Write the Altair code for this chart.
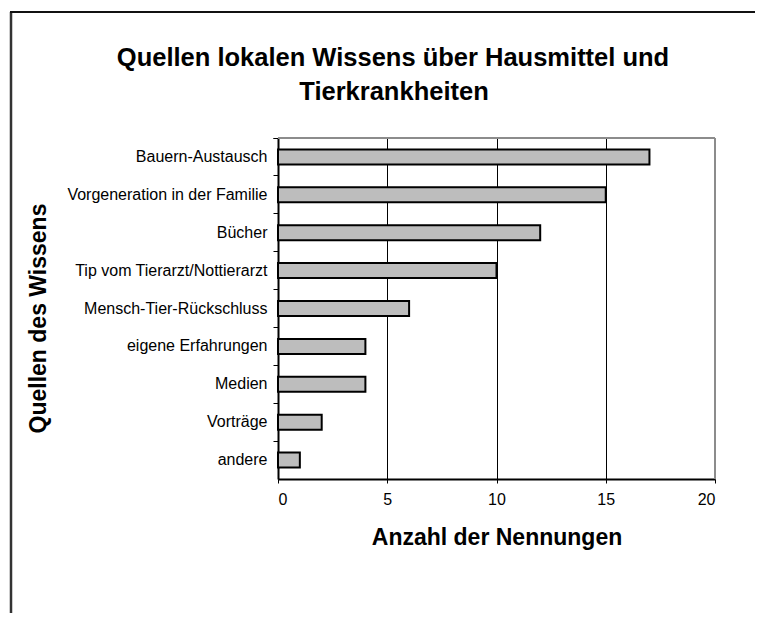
import altair as alt
import pandas as pd

categories = [
    "Bauern-Austausch",
    "Vorgeneration in der Familie",
    "Bücher",
    "Tip vom Tierarzt/Nottierarzt",
    "Mensch-Tier-Rückschluss",
    "eigene Erfahrungen",
    "Medien",
    "Vorträge",
    "andere",
]
counts = [17, 15, 12, 10, 6, 4, 4, 2, 1]
x_ticks = [0, 5, 10, 15, 20]

title_lines = ["Quellen lokalen Wissens über Hausmittel und", "Tierkrankheiten"]
x_title = "Anzahl der Nennungen"
y_title = "Quellen des Wissens"

df = pd.DataFrame({"Quelle": categories, "Anzahl": counts})
one = pd.DataFrame({"k": [0]})

FONT = "Liberation Sans"
W, H = 437, 341

bars = alt.Chart(df).mark_bar(
    size=15, fill="#bdbdbd", stroke="#000000", strokeWidth=2
).encode(
    x=alt.X(
        "Anzahl:Q",
        scale=alt.Scale(domain=[0, 20], nice=False),
        axis=alt.Axis(
            values=x_ticks,
            title=x_title,
            titleFont=FONT,
            titleFontSize=23,
            titleFontWeight="bold",
            titleColor="#000000",
            titleBaseline="alphabetic",
            titleY=65,
            labelFont=FONT,
            labelFontSize=16,
            labelColor="#000000",
            labelPadding=8,
            tickSize=4,
            tickColor="#000000",
            tickWidth=1,
            domainColor="#000000",
            domainWidth=2,
            grid=True,
            gridColor="#000000",
            gridWidth=1,
            gridOpacity={"condition": {"test": "datum.value >= 20", "value": 0}, "value": 1},
        ),
    ),
    y=alt.Y(
        "Quelle:N",
        sort=categories,
        scale=alt.Scale(paddingInner=0, paddingOuter=0),
        axis=alt.Axis(
            title=y_title,
            titleFont=FONT,
            titleFontSize=23,
            titleFontWeight="bold",
            titleColor="#000000",
            titleAngle=-90,
            titleAlign="center",
            titleBaseline="middle",
            titleX=-240,
            titleY=180,
            labelFont=FONT,
            labelFontSize=16,
            labelColor="#000000",
            labelPadding=6,
            labelLimit=300,
            bandPosition=0,
            tickExtra=True,
            tickSize=5,
            tickColor="#000000",
            tickWidth=1,
            domainColor="#000000",
            domainWidth=2,
            grid=False,
        ),
    ),
)

border_top = alt.Chart(one).mark_rule(color="#8c8c8c", strokeWidth=2).encode(
    x=alt.value(0), x2=alt.value(W), y=alt.value(0)
)
border_right = alt.Chart(one).mark_rule(color="#8c8c8c", strokeWidth=2).encode(
    x=alt.value(W), y=alt.value(0), y2=alt.value(H)
)

frame_left = alt.Chart(one).mark_rule(color="#333333", strokeWidth=2.5).encode(
    x=alt.value(-267), y=alt.value(-126), y2=alt.value(H + 150)
)
frame_top = alt.Chart(one).mark_rule(color="#111111", strokeWidth=2).encode(
    x=alt.value(-268), x2=alt.value(W + 60), y=alt.value(-126)
)

title1 = alt.Chart(pd.DataFrame({"t": [title_lines[0]]})).mark_text(
    font=FONT, fontSize=25.5, fontWeight="bold", color="#000000",
    align="center", baseline="alphabetic"
).encode(x=alt.value(115), y=alt.value(-72), text="t:N")
title2 = alt.Chart(pd.DataFrame({"t": [title_lines[1]]})).mark_text(
    font=FONT, fontSize=25.5, fontWeight="bold", color="#000000",
    align="center", baseline="alphabetic"
).encode(x=alt.value(116), y=alt.value(-38), text="t:N")

chart = alt.layer(
    bars, border_top, border_right, frame_left, frame_top, title1, title2
).properties(
    width=W,
    height=H,
    autosize=alt.AutoSizeParams(type="none"),
    padding={"left": 270, "top": 130, "right": 40, "bottom": 134},
).configure_view(
    stroke=None
).configure(background="#ffffff")

chart.save("out.html", embed_options={"renderer": "svg", "actions": False})
